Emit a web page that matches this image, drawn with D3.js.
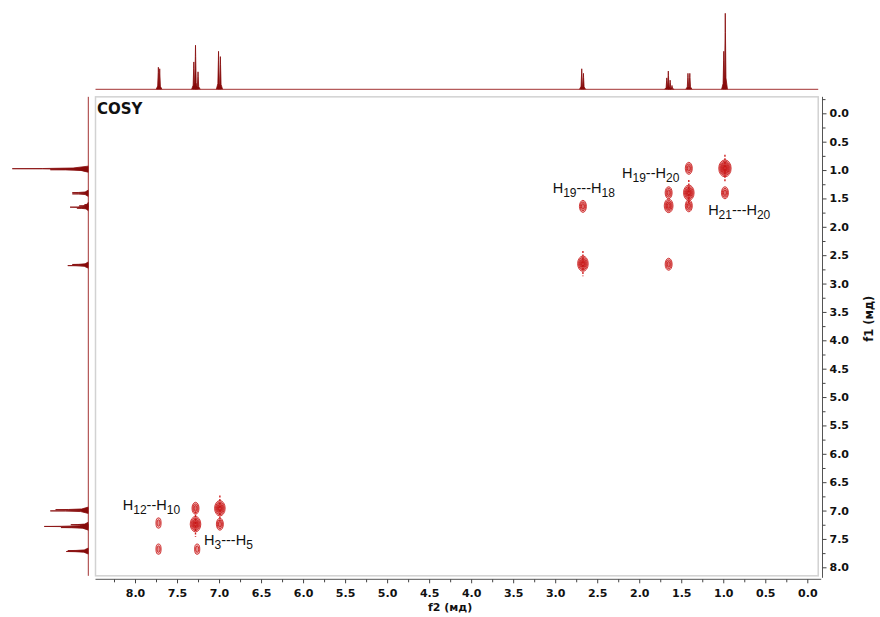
<!DOCTYPE html>
<html>
<head>
<meta charset="utf-8">
<script src="https://cdn.jsdelivr.net/npm/d3@7/dist/d3.min.js"></script>
<style>
  body { margin: 0; background: #fff; }
  svg { display: block; }
</style>
</head>
<body>
<svg id="chart" width="880" height="617"></svg>
<script>
// 1H projection: multiplet line positions (ppm) and relative heights
const lineShifts  = [7.722, 7.706, 7.300, 7.280, 7.250, 7.006, 6.984, 2.684, 2.664, 1.672, 1.654, 1.632, 1.610, 1.420, 1.398, 0.994, 0.976];
const lineHeights = [29,    27,    36,    58,    23,    50,    43,    27,    21,    15,    24,    12,    5,     21,    21,    50,    100];

// COSY cross peaks: f2 shift, f1 shift, contour depth
const peakF2     = [2.67, 2.67, 1.65, 1.65, 1.65, 1.41, 1.41, 1.41, 0.98, 0.98, 7.72, 7.72, 7.28, 7.28, 7.26, 6.99, 6.99];
const peakF1     = [1.64, 2.65, 1.40, 1.63, 2.66, 0.97, 1.40, 1.63, 0.97, 1.40, 7.22, 7.68, 6.96, 7.24, 7.68, 6.96, 7.24];
const peakLevels = [3,    5,    3,    4,    3,    3,    5,    3,    6,    3,    2,    2,    3,    5,    2,    5,    3];

// Correlation annotations (anchored in ppm)
const labelFrom = ["19", "19", "21", "12", "3"];
const labelTo   = ["18", "20", "20", "10", "5"];
const labelDash = ["---", "--", "---", "--", "---"];
const labelF2   = [3.03, 2.205, 1.18, 8.146, 7.179];
const labelF1   = [1.41, 1.14, 1.79, 6.99, 7.604];

// Axis ticks
const f2Ticks = [8.0, 7.5, 7.0, 6.5, 6.0, 5.5, 5.0, 4.5, 4.0, 3.5, 3.0, 2.5, 2.0, 1.5, 1.0, 0.5, 0.0];
const f2Minor = [8.25, 7.75, 7.25, 6.75, 6.25, 5.75, 5.25, 4.75, 4.25, 3.75, 3.25, 2.75, 2.25, 1.75, 1.25, 0.75, 0.25];
const f1Ticks = [0.0, 0.5, 1.0, 1.5, 2.0, 2.5, 3.0, 3.5, 4.0, 4.5, 5.0, 5.5, 6.0, 6.5, 7.0, 7.5, 8.0];
const f1Minor = [-0.25, 0.25, 0.75, 1.25, 1.75, 2.25, 2.75, 3.25, 3.75, 4.25, 4.75, 5.25, 5.75, 6.25, 6.75, 7.25, 7.75];

const f2Span = [8.47, -0.13];
const f1Span = [-0.29, 8.15];

const svg = d3.select("#chart");
const x = d3.scaleLinear().domain([8, 0]).range([135, 807.3]);
const y = d3.scaleLinear().domain([0, 8]).range([113.3, 567.3]);
const topH = d3.scaleLinear().domain([0, 100]).range([89.3, 13.3]);
const leftH = d3.scaleLinear().domain([0, 100]).range([88.3, 12.3]);

const specColor = "#870a0a";
const axisFont = "'DejaVu Sans', Verdana, sans-serif";

// Plot frame
svg.append("rect")
  .attr("x", x(f2Span[0])).attr("y", y(f1Span[0]))
  .attr("width", x(f2Span[1]) - x(f2Span[0]))
  .attr("height", y(f1Span[1]) - y(f1Span[0]))
  .attr("fill", "#fff").attr("stroke", "#d2d2d2").attr("stroke-width", 1.5);

// Top projection
svg.append("line")
  .attr("x1", x(f2Span[0])).attr("x2", x(f2Span[1]))
  .attr("y1", topH(0)).attr("y2", topH(0))
  .attr("stroke", "#a33232").attr("stroke-width", 1);

const lines = lineShifts.map((s, i) => ({ s, h: lineHeights[i] }));

const topShape = d => [
  [d.s + 0.026, 0], [d.s + 0.008, d.h * 0.15], [d.s + 0.002, d.h * 0.75], [d.s, d.h],
  [d.s - 0.002, d.h * 0.75], [d.s - 0.008, d.h * 0.15], [d.s - 0.026, 0]
];
const topLine = d3.line().x(p => x(p[0])).y(p => topH(p[1]));
svg.append("g").selectAll("path").data(lines).join("path")
  .attr("d", d => topLine(topShape(d)))
  .attr("fill", specColor).attr("stroke", specColor).attr("stroke-width", 0.8)
  .attr("stroke-linejoin", "round");

// Left projection
svg.append("line")
  .attr("x1", leftH(0)).attr("x2", leftH(0))
  .attr("y1", y(f1Span[0])).attr("y2", y(f1Span[1]))
  .attr("stroke", "#a33232").attr("stroke-width", 1);

const leftShape = d => [
  [d.s - 0.045, 0], [d.s - 0.012, d.h * 0.2], [d.s - 0.003, d.h * 0.6], [d.s, d.h],
  [d.s + 0.003, d.h * 0.6], [d.s + 0.012, d.h * 0.2], [d.s + 0.045, 0]
];
const leftLine = d3.line().x(p => leftH(p[1])).y(p => y(p[0]));
svg.append("g").selectAll("path").data(lines).join("path")
  .attr("d", d => leftLine(leftShape(d)))
  .attr("fill", specColor).attr("stroke", specColor).attr("stroke-width", 0.8)
  .attr("stroke-linejoin", "round");

// Cross peaks as nested contour ellipses
const rx = d3.scaleLinear().domain([2, 6]).range([2.6, 6.2]);
const ry = d3.scaleLinear().domain([2, 6]).range([5.2, 8.5]);
const peaks = peakF2.map((f2, i) => ({ f2, f1: peakF1[i], lv: peakLevels[i] }));

const gPeaks = svg.append("g");
peaks.forEach(p => {
  const cx = x(p.f2), cy = y(p.f1);
  if (p.lv >= 5) {
    const ext = ry(p.lv) + 5;
    gPeaks.append("line")
      .attr("x1", cx).attr("x2", cx).attr("y1", cy - ext).attr("y2", cy + ext)
      .attr("stroke", "#d02020").attr("stroke-width", 1.4)
      .attr("stroke-dasharray", "2,1.5");
  }
  for (let k = 0; k < p.lv; k++) {
    const f = 1 - k / (p.lv + 0.6);
    gPeaks.append("ellipse")
      .attr("cx", cx).attr("cy", cy)
      .attr("rx", rx(p.lv) * f).attr("ry", ry(p.lv) * f)
      .attr("fill", "rgba(200,20,20,0.28)")
      .attr("stroke", "#c81414").attr("stroke-width", 0.8);
  }
});

// Bottom axis (f2)
const axisY = 579.3;
svg.append("line")
  .attr("x1", x(f2Span[0])).attr("x2", x(f2Span[1]) + 3)
  .attr("y1", axisY).attr("y2", axisY)
  .attr("stroke", "#555").attr("stroke-width", 1);
const gx = svg.append("g").attr("transform", `translate(0,${axisY})`);
gx.call(d3.axisBottom(x).tickValues(f2Ticks).tickSize(4).tickPadding(6).tickFormat(d3.format(".1f")));
gx.append("g").call(d3.axisBottom(x).tickValues(f2Minor).tickSize(3).tickFormat(""));
gx.selectAll(".domain").remove();
gx.selectAll("line").attr("stroke", "#444");
gx.selectAll("text")
  .attr("font-family", axisFont).attr("font-weight", "bold")
  .attr("font-size", 11).attr("fill", "#111");

svg.append("text")
  .attr("x", x(4.25)).attr("y", 611)
  .attr("text-anchor", "middle")
  .attr("font-family", axisFont).attr("font-weight", "bold")
  .attr("font-size", 11).attr("fill", "#111")
  .text("f2 (мд)");

// Right axis (f1)
const axisX = 822.5;
svg.append("line")
  .attr("x1", axisX).attr("x2", axisX)
  .attr("y1", y(f1Span[0])).attr("y2", y(f1Span[1]) + 2)
  .attr("stroke", "#555").attr("stroke-width", 1);
const gy = svg.append("g").attr("transform", `translate(${axisX},0)`);
gy.call(d3.axisRight(y).tickValues(f1Ticks).tickSize(4).tickPadding(3).tickFormat(d3.format(".1f")));
gy.append("g").call(d3.axisRight(y).tickValues(f1Minor).tickSize(3).tickFormat(""));
gy.selectAll(".domain").remove();
gy.selectAll("line").attr("stroke", "#444");
gy.selectAll("text")
  .attr("font-family", axisFont).attr("font-weight", "bold")
  .attr("font-size", 11).attr("fill", "#111");

svg.append("text")
  .attr("transform", `translate(873,${y(3.62)}) rotate(-90)`)
  .attr("text-anchor", "middle")
  .attr("font-family", axisFont).attr("font-weight", "bold")
  .attr("font-size", 11.5).attr("fill", "#111")
  .text("f1 (мд)");

// Experiment title
svg.append("text")
  .attr("x", 97).attr("y", 114)
  .attr("font-family", axisFont).attr("font-weight", "bold")
  .attr("font-size", 15).attr("fill", "#111")
  .text("COSY");

// Correlation labels with subscripted proton numbers
const labelFont = "'Liberation Sans', Arial, sans-serif";
labelFrom.forEach((a, i) => {
  const t = svg.append("text")
    .attr("x", x(labelF2[i])).attr("y", y(labelF1[i]))
    .attr("font-family", labelFont).attr("font-size", 14.5).attr("fill", "#111");
  t.append("tspan").text("H");
  t.append("tspan").attr("dy", 4).attr("font-size", 12).text(a);
  t.append("tspan").attr("dy", -4).text(labelDash[i] + "H");
  t.append("tspan").attr("dy", 4).attr("font-size", 12).text(labelTo[i]);
});
</script>
</body>
</html>
